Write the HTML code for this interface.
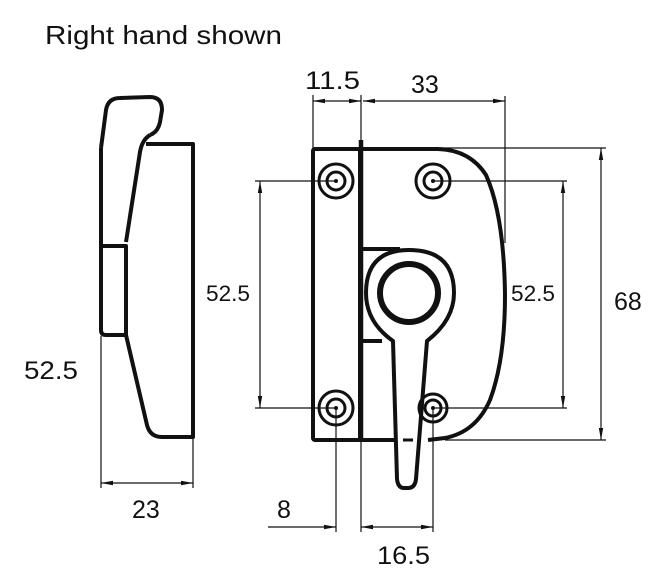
<!DOCTYPE html>
<html><head><meta charset="utf-8"><style>
html,body{margin:0;padding:0;background:#fff;}
svg{display:block;}
text{font-family:"Liberation Sans",Arial,sans-serif;fill:#111;}
</style></head><body>
<svg width="657" height="580" viewBox="0 0 657 580" xmlns="http://www.w3.org/2000/svg">
<defs>
<marker id="a" markerWidth="12" markerHeight="6" refX="12" refY="3" orient="auto" markerUnits="userSpaceOnUse">
<path d="M0,0.8 L12,3 L0,5.2 Z" fill="#111"/></marker>
<marker id="b" markerWidth="12" markerHeight="6" refX="0" refY="3" orient="auto" markerUnits="userSpaceOnUse">
<path d="M12,0.8 L0,3 L12,5.2 Z" fill="#111"/></marker>
</defs>
<text x="45" y="44" font-size="26" textLength="237" lengthAdjust="spacingAndGlyphs">Right hand shown</text>

<!-- left side view -->
<g fill="none" stroke="#111" stroke-width="4" stroke-linejoin="round">
<path d="M101,148 L106,110 Q108,98 120,98 L150,97 Q162,97 162,110 L160,122 Q158,132 150,135"/>
<path d="M150,135 Q142,140 140,152 L126,242"/>
<path d="M146,144 L193,144 L193,437 L162,437 Q150,437 147,425 L126,335"/>
<path d="M101,148 L101,330 Q101,335 106,335 L126,335 L126,246 L101,246"/>
</g>
<g stroke="#111" stroke-width="1.2" fill="none">
<line x1="101" y1="336" x2="101" y2="488"/>
<line x1="193" y1="438" x2="193" y2="488"/>
<line x1="101" y1="483" x2="193" y2="483" marker-start="url(#b)" marker-end="url(#a)"/>
</g>
<text x="24" y="379" font-size="25" textLength="54" lengthAdjust="spacingAndGlyphs">52.5</text>
<text x="132" y="518" font-size="25">23</text>

<!-- front view -->
<g fill="none" stroke="#111" stroke-width="4" stroke-linejoin="round">
<rect x="313" y="149" width="47" height="291" rx="2"/>
<path d="M362,149 L438,149 Q470,150 486,175 Q504,215 505,295 Q505,360 490,400 Q476,432 445,438 L428,440 M362,440 L395,440"/>
<line x1="361" y1="140" x2="361" y2="442" stroke-width="4.5"/>
<path d="M362,249 L400,249 M362,341 L382,341"/>
<path d="M393,341 Q366,322 366,293 Q366,250 409,250 Q454,250 454,293 Q454,320 427,341 L416,479 Q415,488 408,488 L404,488 Q398,488 397,479 Z" fill="#fff"/>
<circle cx="409" cy="293" r="29" stroke-width="6"/>
<line x1="403" y1="440" x2="413" y2="440" stroke-width="3"/>
</g>
<g fill="none" stroke="#111" stroke-width="3">
<circle cx="336" cy="181" r="17"/><circle cx="336" cy="181" r="9"/>
<circle cx="433" cy="181" r="17"/><circle cx="433" cy="181" r="9"/>
<circle cx="336" cy="408" r="17"/><circle cx="336" cy="408" r="9"/>
<circle cx="433" cy="408" r="14"/><circle cx="433" cy="408" r="8"/>
</g>
<g fill="#111">
<circle cx="336" cy="181" r="2"/><circle cx="433" cy="181" r="2"/>
<circle cx="336" cy="408" r="2"/><circle cx="433" cy="408" r="2"/>
</g>

<!-- dimension lines -->
<g stroke="#111" stroke-width="1.2" fill="none">
<line x1="313" y1="95" x2="313" y2="149"/>
<line x1="361" y1="95" x2="361" y2="140"/>
<line x1="313" y1="101" x2="361" y2="101" marker-start="url(#b)" marker-end="url(#a)"/>
<line x1="363" y1="101" x2="505" y2="101" marker-start="url(#b)" marker-end="url(#a)"/>
<line x1="505" y1="96" x2="505" y2="243"/>
<line x1="440" y1="148" x2="606" y2="148"/>
<line x1="445" y1="440" x2="606" y2="440"/>
<line x1="601" y1="148" x2="601" y2="440" marker-start="url(#b)" marker-end="url(#a)"/>
<line x1="433" y1="181" x2="567" y2="181"/>
<line x1="433" y1="408" x2="567" y2="408"/>
<line x1="563" y1="181" x2="563" y2="408" marker-start="url(#b)" marker-end="url(#a)"/>
<line x1="255" y1="181" x2="336" y2="181"/>
<line x1="255" y1="408" x2="336" y2="408"/>
<line x1="260" y1="181" x2="260" y2="408" marker-start="url(#b)" marker-end="url(#a)"/>
<line x1="336" y1="408" x2="336" y2="532"/>
<line x1="361" y1="442" x2="361" y2="532"/>
<line x1="433" y1="408" x2="433" y2="532"/>
<line x1="268" y1="527" x2="336" y2="527" marker-end="url(#a)"/>
<line x1="361" y1="527" x2="433" y2="527" marker-start="url(#b)" marker-end="url(#a)"/>
</g>
<text x="305" y="89" font-size="25" textLength="55" lengthAdjust="spacingAndGlyphs">11.5</text>
<text x="411" y="93" font-size="25">33</text>
<text x="614" y="310" font-size="25">68</text>
<text x="511" y="301" font-size="22" textLength="44" lengthAdjust="spacingAndGlyphs">52.5</text>
<text x="206" y="301" font-size="22" textLength="44" lengthAdjust="spacingAndGlyphs">52.5</text>
<text x="277" y="518" font-size="25">8</text>
<text x="377" y="564" font-size="25" textLength="53" lengthAdjust="spacingAndGlyphs">16.5</text>
</svg>
</body></html>
